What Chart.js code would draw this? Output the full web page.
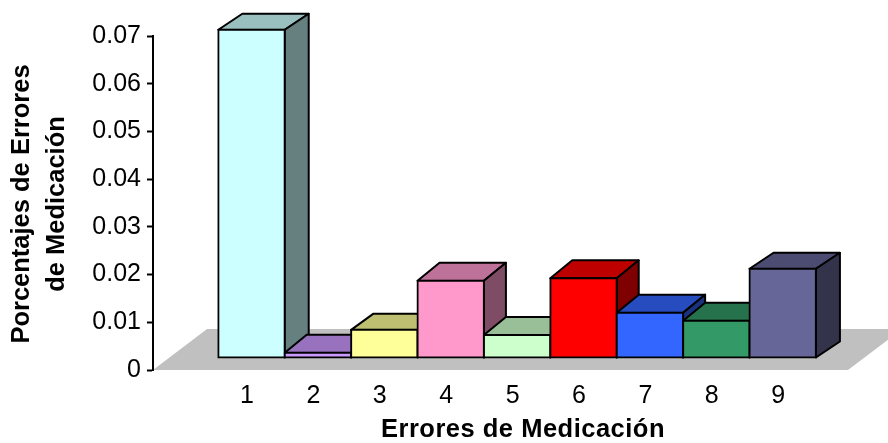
<!DOCTYPE html>
<html>
<head>
<meta charset="utf-8">
<title>Errores de Medicación</title>
<script src="https://cdn.jsdelivr.net/npm/chart.js@4"></script>
<style>
	html, body { margin: 0; padding: 0; background: #fff; }
	canvas { display: block; }
</style>
</head>
<body>
<canvas id="myChart" width="888" height="443"></canvas>
<script>
const categories = [1, 2, 3, 4, 5, 6, 7, 8, 9];
const percentages = [0.0688, 0.0011, 0.0059, 0.0162, 0.0048, 0.0167, 0.0095, 0.0078, 0.0187];
const yTicks = [0, 0.01, 0.02, 0.03, 0.04, 0.05, 0.06, 0.07];

const frontColors = ['#CCFFFF', '#CC99FF', '#FFFF99', '#FF99CC', '#CCFFCC', '#FF0000', '#3366FF', '#339966', '#666699'];
const topColors = ['#99BFBF', '#9972BF', '#BFBF72', '#BF7299', '#99BF99', '#BF0000', '#264CBF', '#26724C', '#4C4C72'];
const sideColors = ['#667F7F', '#664C7F', '#7F7F4C', '#7F4C66', '#667F66', '#7F0000', '#19337F', '#194C33', '#33334C'];

// depth of each bar's top face, not quite the same for all of them
const depthX = [24, 22, 22, 22, 22, 22, 22, 22, 24];
const depthY = [16, 18, 16, 18, 18, 18, 18, 18, 16];

const fontFamily = '"Liberation Sans", Arial, sans-serif';

// fake depth: floor parallelogram, and the bars pushed back onto it
const floorDepth = { x: 54, y: 41 };
const barShift = { x: 4.5, y: -12 };

const depthPlugin = {
	id: 'depth',
	beforeDraw(chart) {
		const ctx = chart.ctx;
		const { left, right, bottom } = chart.chartArea;
		ctx.save();
		ctx.fillStyle = '#C0C0C0';
		ctx.beginPath();
		ctx.moveTo(left, bottom);
		ctx.lineTo(right, bottom);
		ctx.lineTo(right + floorDepth.x, bottom - floorDepth.y);
		ctx.lineTo(left + floorDepth.x, bottom - floorDepth.y);
		ctx.closePath();
		ctx.fill();
		ctx.restore();
	},
	beforeDatasetsDraw(chart) {
		const ctx = chart.ctx;
		ctx.save(); // restored in afterDatasetsDraw, the fronts need the shift too
		ctx.translate(barShift.x, barShift.y);
		ctx.lineWidth = 2;
		ctx.strokeStyle = '#000';
		ctx.lineJoin = 'round';

		const face = (points, color) => {
			ctx.fillStyle = color;
			ctx.beginPath();
			points.forEach((p, i) => i ? ctx.lineTo(p[0], p[1]) : ctx.moveTo(p[0], p[1]));
			ctx.closePath();
			ctx.fill();
			ctx.stroke();
		};

		// left to right so a later top covers the side of the bar before it
		chart.getDatasetMeta(0).data.forEach((bar, i) => {
			const { x, y, base, width } = bar.getProps(['x', 'y', 'base', 'width'], true);
			const l = x - width / 2;
			const r = x + width / 2;
			const dx = depthX[i];
			const dy = -depthY[i];
			face([[l, y], [r, y], [r + dx, y + dy], [l + dx, y + dy]], topColors[i]);
			face([[r, y], [r + dx, y + dy], [r + dx, base + dy], [r, base]], sideColors[i]);
		});
	},
	afterDatasetsDraw(chart) {
		chart.ctx.restore();
	},
	afterDraw(chart) {
		// axis titles by hand, scale titles have no letter spacing or x offset
		const ctx = chart.ctx;
		ctx.save();
		ctx.font = 'bold 25.5px ' + fontFamily;
		ctx.fillStyle = '#000';
		ctx.textAlign = 'center';
		ctx.textBaseline = 'middle';
		ctx.letterSpacing = '0.5px';
		ctx.fillText('Errores de Medicación', 523, 430);
		ctx.letterSpacing = '0px';
		ctx.translate(22, 204);
		ctx.rotate(-Math.PI / 2);
		ctx.fillText('Porcentajes de Errores', 0, 0);
		ctx.fillText('de Medicación', 0, 35);
		ctx.restore();
	}
};

const chartt = new Chart(document.getElementById('myChart'), {
	type: 'bar',
	data: {
		datasets: [{
			data: categories.map((c, i) => ({ x: c, y: percentages[i] })),
			backgroundColor: frontColors,
			borderColor: '#000',
			borderWidth: 2,
			borderSkipped: false,
			inflateAmount: 1,
			categoryPercentage: 1,
			barPercentage: 1,
			clip: false
		}]
	},
	options: {
		responsive: false,
		animation: false,
		layout: { padding: { left: 0, top: 36, right: 40, bottom: 0 } },
		plugins: {
			legend: { display: false },
			tooltip: { enabled: false }
		},
		scales: {
			x: {
				type: 'linear',
				offset: false,
				min: -0.416,
				max: 10.051,
				afterBuildTicks: scale => { scale.ticks = categories.map(value => ({ value })); },
				afterFit: scale => { scale.height = 73; },
				grid: { display: false, offset: false },
				border: { display: false },
				ticks: {
					autoSkip: false,
					maxRotation: 0,
					padding: 3,
					color: '#000',
					font: { family: fontFamily, size: 25 },
					callback: v => String(v)
				}
			},
			y: {
				min: 0,
				max: 0.07,
				afterBuildTicks: scale => { scale.ticks = yTicks.map(value => ({ value })); },
				afterFit: scale => { scale.width = 153; },
				grid: {
					drawOnChartArea: false,
					tickLength: 6,
					tickWidth: 2,
					tickColor: '#000'
				},
				border: { color: '#000', width: 2 },
				ticks: {
					padding: 6,
					color: '#000',
					font: { family: fontFamily, size: 25 },
					callback: v => v === 0 ? '0' : v.toFixed(2)
				}
			}
		}
	},
	plugins: [depthPlugin]
});
</script>
</body>
</html>
